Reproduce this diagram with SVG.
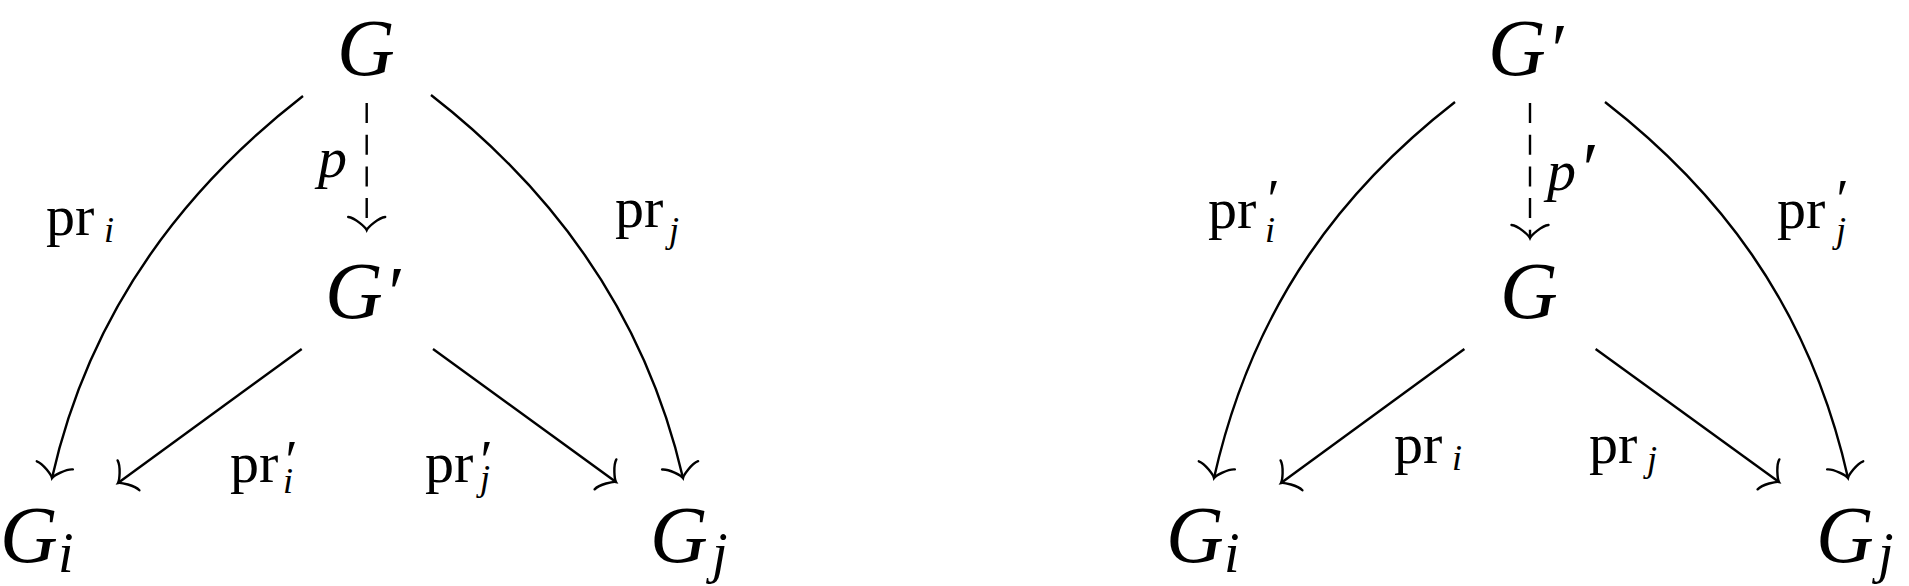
<svg xmlns="http://www.w3.org/2000/svg" width="1909" height="586" viewBox="0 0 1909 586">
<style>
  text { font-family: "Liberation Serif", "DejaVu Serif", serif; fill: #000; }
  .n { font-size: 80px; font-style: italic; }
  .sub { font-size: 56px; font-style: italic; }
  .lab { font-size: 58px; font-style: normal; }
  .li { font-size: 36px; font-style: italic; }
  .lp { font-size: 56px; font-style: italic; }
  .pl { font-size: 58px; font-style: italic; }
  .np { font-size: 74px; font-style: italic; }
  .e { fill: none; stroke: #000; stroke-width: 2.4; }
  .d { stroke-dasharray: 20 11.7; }
</style>
<defs>
  <marker id="arr" markerUnits="userSpaceOnUse" viewBox="-20 -20 40 40" markerWidth="40" markerHeight="40" refX="0" refY="0" orient="auto" overflow="visible">
    <path d="M-13,-18.5 C-12.1,-11.5 -2.6,-1.15 0,0 C-2.6,1.15 -12.1,11.5 -13,18.5" fill="none" stroke="#000" stroke-width="2.4" stroke-linecap="round" stroke-dasharray="none"/>
  </marker>
</defs>

<g id="connectors">
  <!-- left diagram -->
  <path class="e d" d="M366.7,103 L366.7,230" marker-end="url(#arr)"/>
  <path class="e" d="M303,96 C195,180 92,300 52,478" marker-end="url(#arr)"/>
  <path class="e" d="M431,95 C539,179 642,300 683,478" marker-end="url(#arr)"/>
  <path class="e" d="M301.7,349 L118,483" marker-end="url(#arr)"/>
  <path class="e" d="M433,349 L616,482" marker-end="url(#arr)"/>
  <!-- right diagram -->
  <path class="e d" d="M1530,103 L1530,238" marker-end="url(#arr)"/>
  <path class="e" d="M1455,102 C1347,186 1254,300 1214,478" marker-end="url(#arr)"/>
  <path class="e" d="M1605,102 C1713,186 1808,300 1848,478" marker-end="url(#arr)"/>
  <path class="e" d="M1464.4,349 L1281,483" marker-end="url(#arr)"/>
  <path class="e" d="M1595.6,349 L1779,482" marker-end="url(#arr)"/>
</g>

<g id="left-G-top"><text class="n" x="337" y="75">G</text></g>
<g id="left-G-prime"><text class="n" x="325" y="318">G</text><text class="np" x="384" y="318">′</text></g>
<g id="left-Gi"><text class="n" x="0" y="562">G</text><text class="sub" x="58" y="572">i</text></g>
<g id="left-Gj"><text class="n" x="650" y="562">G</text><text class="sub" x="712" y="572">j</text></g>

<g id="left-label-p"><text class="pl" x="318" y="177">p</text></g>
<g id="left-label-pri"><text class="lab" x="46" y="235">pr</text><text class="li" x="104" y="242">i</text></g>
<g id="left-label-prj"><text class="lab" x="615" y="227">pr</text><text class="li" x="669" y="242">j</text></g>
<g id="left-label-pri-prime"><text class="lab" x="230" y="482">pr</text><text class="lp" x="282" y="480">′</text><text class="li" x="283" y="493">i</text></g>
<g id="left-label-prj-prime"><text class="lab" x="425" y="482">pr</text><text class="lp" x="477" y="480">′</text><text class="li" x="480" y="490">j</text></g>

<g id="right-G-prime-top"><text class="n" x="1488" y="75">G</text><text class="np" x="1547" y="75">′</text></g>
<g id="right-G-mid"><text class="n" x="1500" y="318">G</text></g>
<g id="right-Gi"><text class="n" x="1166" y="562">G</text><text class="sub" x="1224" y="572">i</text></g>
<g id="right-Gj"><text class="n" x="1816" y="562">G</text><text class="sub" x="1878" y="572">j</text></g>

<g id="right-label-p-prime"><text class="pl" x="1547" y="190">p</text><text class="np" x="1578" y="194">′</text></g>
<g id="right-label-pri-prime"><text class="lab" x="1208" y="228">pr</text><text class="lp" x="1264" y="219">′</text><text class="li" x="1265" y="242">i</text></g>
<g id="right-label-prj-prime"><text class="lab" x="1777" y="228">pr</text><text class="lp" x="1833" y="219">′</text><text class="li" x="1836" y="242">j</text></g>
<g id="right-label-pri"><text class="lab" x="1394" y="463">pr</text><text class="li" x="1452" y="470">i</text></g>
<g id="right-label-prj"><text class="lab" x="1589" y="463">pr</text><text class="li" x="1647" y="471">j</text></g>
</svg>
